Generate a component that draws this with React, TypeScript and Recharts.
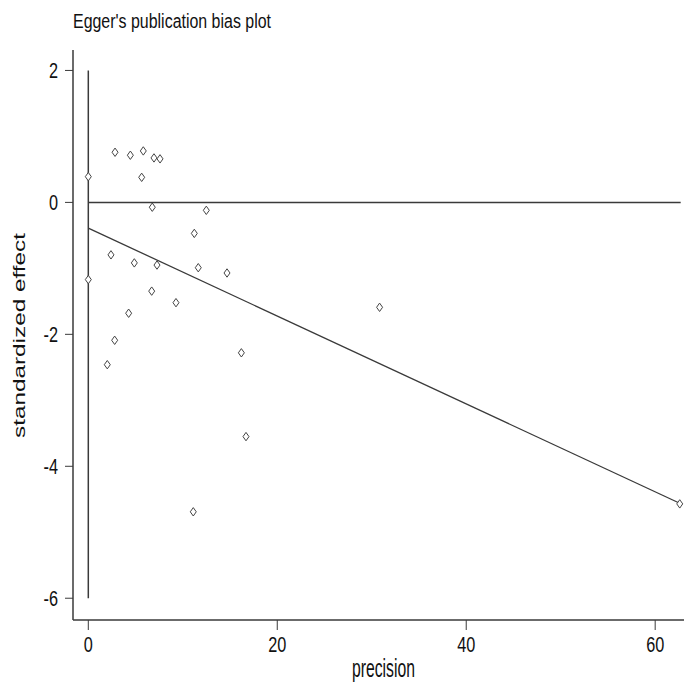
import React from 'react';
import { ScatterChart, Scatter, XAxis, YAxis, ReferenceLine } from 'recharts';

const precision = [0, 2.83, 4.45, 5.82, 6.95, 7.59, 5.65, 6.77, 12.49, 11.22, 2.4, 4.87, 7.27, 11.64, 14.68, 0, 6.71, 9.28, 4.27, 2.79, 2.01, 16.2, 16.69, 11.11, 30.83, 62.6];
const stdEffect = [0.39, 0.76, 0.715, 0.78, 0.674, 0.66, 0.38, -0.073, -0.12, -0.47, -0.795, -0.917, -0.95, -0.99, -1.07, -1.17, -1.345, -1.52, -1.68, -2.09, -2.46, -2.28, -3.55, -4.69, -1.59, -4.57];

const xTicks = [0, 20, 40, 60];
const yTicks = [2, 0, -2, -4, -6];

// Egger regression line endpoints (precision, standardized effect)
const regStart = { x: 0, y: -0.39 };
const regEnd = { x: 62.6, y: -4.56 };
// vertical line at precision 0 and horizontal zero line
const vLine = [{ x: 0, y: 2 }, { x: 0, y: -6 }];
const hLine = [{ x: 0, y: 0 }, { x: 62.7, y: 0 }];

const data = precision.map((p, i) => ({ x: p, y: stdEffect[i] }));

const FONT = '"Liberation Sans", Arial, sans-serif';
const LINE = '#3a3a3a';
const SX = 0.74;

const Diamond = (props: any) => {
  const { cx, cy } = props;
  if (cx == null || cy == null) return null;
  const w = 3, h = 4.2;
  return (
    <polygon
      points={`${cx},${cy - h} ${cx + w},${cy} ${cx},${cy + h} ${cx - w},${cy}`}
      fill="#fff"
      stroke="#444"
      strokeWidth={1}
    />
  );
};

const XTick = (props: any) => {
  const { x, y, payload } = props;
  return (
    <g transform={`translate(${x},${y}) scale(${SX},1)`}>
      <text x={0} y={0} dy="0.71em" textAnchor="middle" fontFamily={FONT} fontSize={22} fill="#111">
        {payload.value}
      </text>
    </g>
  );
};

const YTick = (props: any) => {
  const { x, y, payload } = props;
  return (
    <g transform={`translate(${x},${y}) scale(${SX},1)`}>
      <text x={0} y={0} dy="0.355em" textAnchor="end" fontFamily={FONT} fontSize={22} fill="#111">
        {payload.value}
      </text>
    </g>
  );
};

const YLabel = () => (
  <text
    x={25}
    y={335.5}
    transform="rotate(-90 25 335.5)"
    textAnchor="middle"
    fontFamily={FONT}
    fontSize={17}
    fill="#111"
    textLength={205}
    lengthAdjust="spacingAndGlyphs"
  >
    standardized effect
  </text>
);

const XLabel = () => (
  <text
    x={352}
    y={677}
    fontFamily={FONT}
    fontSize={25}
    fill="#111"
    textLength={63}
    lengthAdjust="spacingAndGlyphs"
  >
    precision
  </text>
);

export default function App() {
  return (
    <div style={{ position: 'absolute', left: 0, top: 0, width: 684, height: 684, background: '#fff' }}>
      <svg width={684} height={40} style={{ position: 'absolute', left: 0, top: 0 }}>
        <text
          x={73}
          y={28}
          fontFamily={FONT}
          fontSize={20}
          fill="#111"
          textLength={198}
          lengthAdjust="spacingAndGlyphs"
        >
          Egger's publication bias plot
        </text>
      </svg>
      <ScatterChart width={684} height={684} margin={{ top: 50, right: 0, bottom: 0, left: 0 }}>
        <XAxis
          type="number"
          dataKey="x"
          domain={[-1.62, 63.05]}
          ticks={xTicks}
          allowDataOverflow
          height={64}
          stroke={LINE}
          tickSize={10}
          tickMargin={6}
          tick={<XTick />}
          tickLine={{ stroke: LINE }}
          axisLine={{ stroke: LINE, strokeWidth: 1.5 }}
          label={<XLabel />}
        />
        <YAxis
          type="number"
          dataKey="y"
          domain={[-6.33, 2.31]}
          ticks={yTicks}
          allowDataOverflow
          width={73}
          stroke={LINE}
          tickSize={8}
          tickMargin={7}
          tick={<YTick />}
          tickLine={{ stroke: LINE }}
          axisLine={{ stroke: LINE, strokeWidth: 1.5 }}
          label={<YLabel />}
        />
        <ReferenceLine segment={vLine} stroke={LINE} strokeWidth={1.5} ifOverflow="visible" />
        <ReferenceLine segment={hLine} stroke={LINE} strokeWidth={1.5} ifOverflow="visible" />
        <ReferenceLine segment={[regStart, regEnd]} stroke={LINE} strokeWidth={1.3} ifOverflow="visible" />
        <Scatter data={data} shape={<Diamond />} isAnimationActive={false} />
      </ScatterChart>
    </div>
  );
}
